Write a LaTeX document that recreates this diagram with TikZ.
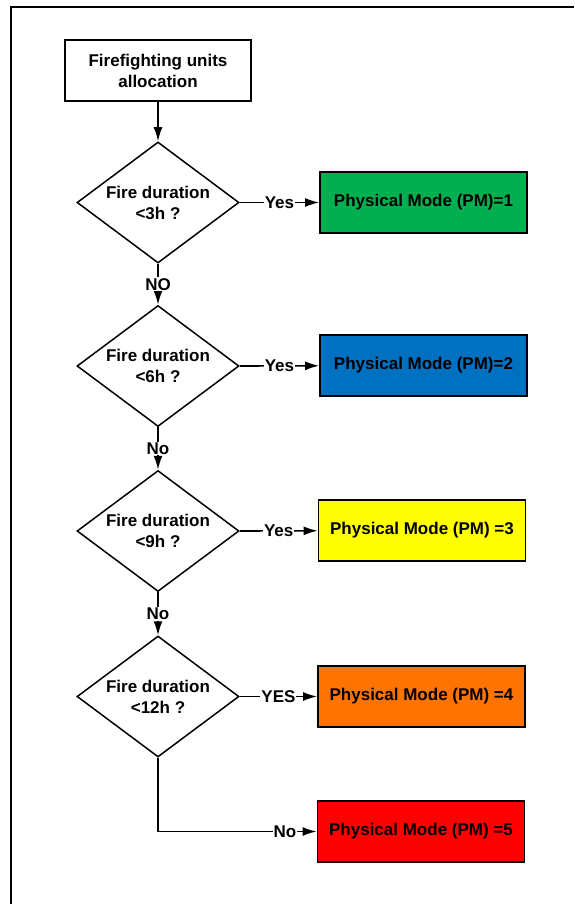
\documentclass[tikz,border=0pt]{standalone}
\usepackage{fontspec}
\setmainfont{Liberation Sans}
\usepackage{xcolor}
\usetikzlibrary{shapes.geometric,arrows.meta,positioning}
\definecolor{pmgreen}{RGB}{0,176,80}
\definecolor{pmblue}{RGB}{0,112,192}
\definecolor{pmyellow}{RGB}{255,255,0}
\definecolor{pmorange}{RGB}{255,116,0}
\definecolor{pmred}{RGB}{255,0,0}

\begin{document}
\begin{tikzpicture}[x=1pt,y=1pt,font=\fontsize{17}{21}\selectfont\bfseries,
  start/.style={rectangle,draw,line width=1.6pt,minimum width=186pt,minimum height=61pt,align=center},
  decision/.style={diamond,draw,line width=1.5pt,aspect=1.34,minimum width=162pt,minimum height=121pt,inner sep=0pt,align=center},
  mode/.style={rectangle,draw,line width=1.8pt,fill=#1,minimum width=207pt,minimum height=61pt},
  link/.style={line width=1.6pt,-{Latex[length=14pt,width=9pt]}},
  lbl/.style={fill=white,inner sep=1pt}]
\useasboundingbox (0,0) rectangle (574,-904);
% outer frame
\draw[line width=2.2pt] (11,-904) -- (11,-7) -- (574,-7);

\node[start] (alloc) at (158,-70.5) {Firefighting units\\allocation};

\node[decision] (d1) at (158,-202.5) {Fire duration\\<3h ?};
\node[decision] (d2) at (158,-366) {Fire duration\\<6h ?};
\node[decision] (d3) at (158,-531) {Fire duration\\<9h ?};
\node[decision] (d4) at (158,-696.5) {Fire duration\\<12h ?};

\node[mode=pmgreen] (pm1) at (423.5,-202.5) {Physical Mode (PM)=1};
\node[mode=pmblue] (pm2) at (423.5,-365.5) {Physical Mode (PM)=2};
\node[mode=pmyellow] (pm3) at (422,-530.5) {Physical Mode (PM) =3};
\node[mode=pmorange] (pm4) at (421.5,-696.5) {Physical Mode (PM) =4};
\node[mode=pmred] (pm5) at (421,-831.5) {Physical Mode (PM) =5};

% flow
\draw[link] (alloc) -- (d1);
\draw[link] (d1) -- node[lbl] {NO} (d2);
\draw[link] (d2) -- node[lbl] {No} (d3);
\draw[link] (d3) -- node[lbl] {No} (d4);
\draw[link] (d4.south) |- node[lbl,pos=0.9] {No} (pm5);

\draw[link] (d1.east) -- node[lbl] {Yes} (pm1);
\draw[link] (d2.east) -- node[lbl] {Yes} (pm2);
\draw[link] (d3.east) -- node[lbl] {Yes} (pm3);
\draw[link] (d4.east) -- node[lbl] {YES} (pm4);
\end{tikzpicture}
\end{document}
